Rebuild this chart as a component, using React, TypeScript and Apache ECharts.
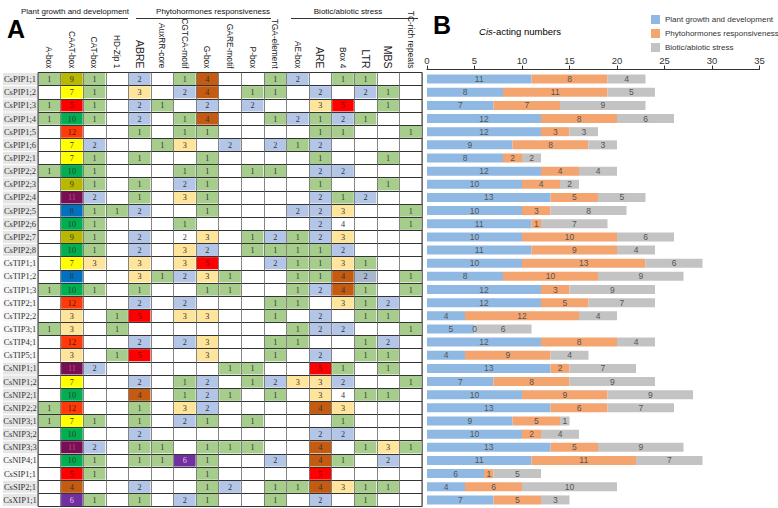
import React, { useEffect, useRef } from "react";
import * as echarts from "echarts";

const genes = [
  "CsPIP1;1", "CsPIP1;2", "CsPIP1;3", "CsPIP1;4", "CsPIP1;5", "CsPIP1;6",
  "CsPIP2;1", "CsPIP2;2", "CsPIP2;3", "CsPIP2;4", "CsPIP2;5", "CsPIP2;6", "CsPIP2;7", "CsPIP2;8",
  "CsTIP1;1", "CsTIP1;2", "CsTIP1;3", "CsTIP2;1", "CsTIP2;2", "CsTIP3;1", "CsTIP4;1", "CsTIP5;1",
  "CsNIP1;1", "CsNIP1;2", "CsNIP2;1", "CsNIP2;2", "CsNIP3;1", "CsNIP3;2", "CsNIP3;3", "CsNIP4;1",
  "CsSIP1;1", "CsSIP2;1", "CsXIP1;1",
];

const elements = [
  "A-box", "CAAT-box", "CAT-box", "HD-Zip 1",
  "ABRE", "AuxRR-core", "CGTCA-motif", "G-box", "GARE-motif", "P-box", "TGA-element",
  "AE-box", "ARE", "Box 4", "LTR", "MBS", "TC-rich repeats",
];
const bigHeaders = ["ABRE", "ARE", "LTR", "MBS"];

// counts per gene (rows) and element (columns); 0 = empty cell
const counts = [
  [1, 9, 1, 0, 2, 0, 1, 4, 0, 0, 1, 2, 0, 1, 1, 0, 0],
  [0, 7, 1, 0, 3, 0, 2, 4, 0, 1, 1, 0, 2, 0, 2, 1, 0],
  [1, 5, 1, 0, 2, 1, 0, 2, 0, 2, 0, 0, 3, 5, 0, 1, 0],
  [1, 10, 1, 0, 2, 0, 1, 4, 0, 0, 1, 2, 1, 2, 1, 0, 0],
  [0, 12, 0, 0, 1, 0, 1, 1, 0, 0, 0, 0, 1, 1, 0, 0, 1],
  [0, 7, 2, 0, 0, 1, 3, 0, 2, 0, 2, 1, 2, 0, 0, 0, 0],
  [0, 7, 1, 0, 1, 0, 0, 1, 0, 0, 0, 0, 1, 0, 0, 1, 0],
  [1, 10, 1, 0, 0, 0, 1, 1, 0, 1, 1, 0, 2, 2, 0, 0, 0],
  [0, 9, 1, 0, 1, 0, 2, 1, 0, 0, 0, 0, 1, 0, 0, 1, 0],
  [0, 11, 2, 0, 1, 0, 3, 1, 0, 0, 0, 0, 2, 1, 2, 0, 0],
  [0, 8, 1, 1, 2, 0, 0, 1, 0, 0, 0, 2, 2, 3, 0, 0, 1],
  [0, 10, 1, 0, 0, 0, 1, 0, 0, 0, 0, 0, 2, 4, 0, 0, 1],
  [0, 9, 1, 0, 2, 0, 2, 3, 0, 1, 2, 1, 2, 3, 0, 0, 0],
  [0, 10, 1, 0, 2, 0, 3, 2, 0, 1, 1, 1, 1, 2, 0, 0, 0],
  [0, 7, 3, 0, 3, 0, 3, 5, 0, 0, 2, 1, 1, 3, 1, 0, 0],
  [0, 8, 0, 0, 3, 1, 2, 3, 1, 0, 0, 1, 1, 4, 2, 0, 1],
  [1, 10, 1, 0, 1, 0, 0, 1, 1, 0, 0, 1, 2, 4, 1, 0, 1],
  [0, 12, 0, 0, 2, 0, 2, 0, 0, 0, 1, 1, 0, 3, 1, 2, 0],
  [0, 3, 0, 1, 5, 0, 3, 3, 0, 0, 1, 0, 2, 0, 1, 1, 0],
  [1, 3, 0, 1, 0, 0, 0, 0, 0, 0, 0, 1, 2, 2, 0, 0, 1],
  [0, 12, 0, 0, 2, 0, 2, 3, 0, 0, 1, 1, 0, 0, 1, 2, 0],
  [0, 3, 0, 1, 5, 0, 0, 3, 0, 0, 1, 0, 2, 0, 1, 1, 0],
  [0, 11, 2, 0, 0, 0, 0, 0, 1, 1, 0, 0, 5, 1, 0, 1, 0],
  [0, 7, 0, 0, 2, 0, 1, 2, 0, 1, 2, 3, 3, 2, 0, 0, 1],
  [0, 10, 0, 0, 4, 0, 1, 2, 1, 0, 1, 0, 3, 4, 1, 1, 0],
  [1, 12, 0, 0, 1, 0, 3, 2, 0, 0, 0, 0, 4, 3, 0, 0, 0],
  [1, 7, 1, 0, 1, 0, 2, 1, 0, 1, 0, 0, 0, 1, 0, 0, 0],
  [0, 10, 0, 0, 2, 0, 0, 0, 0, 0, 0, 0, 2, 2, 0, 0, 0],
  [0, 11, 2, 0, 1, 1, 0, 1, 1, 1, 0, 0, 4, 0, 1, 3, 1],
  [0, 10, 1, 0, 1, 1, 6, 1, 0, 0, 2, 0, 4, 1, 0, 2, 0],
  [0, 5, 1, 0, 0, 0, 0, 1, 0, 0, 0, 0, 5, 0, 0, 0, 0],
  [0, 4, 0, 0, 2, 0, 0, 1, 2, 0, 1, 1, 4, 3, 1, 1, 0],
  [0, 6, 1, 0, 1, 0, 2, 1, 0, 0, 1, 0, 2, 0, 1, 0, 0],
];

// cells drawn without fill colour in the reference: [gene, element]
const plainCells = [["CsPIP2;6", "Box 4"], ["CsPIP2;7", "CGTCA-motif"], ["CsNIP2;1", "Box 4"]];
const greyBlueCells = [["CsTIP1;2", "LTR"]];

// row labels with shaded background
const shadedGenes = [
  "CsPIP1;1", "CsPIP1;2", "CsPIP1;3", "CsPIP1;4", "CsPIP1;5", "CsPIP1;6",
  "CsPIP2;1", "CsPIP2;2", "CsPIP2;3", "CsPIP2;4", "CsPIP2;5", "CsPIP2;6", "CsPIP2;7", "CsPIP2;8",
  "CsNIP1;1", "CsNIP1;2", "CsNIP2;1", "CsNIP2;2", "CsNIP3;1", "CsNIP3;2", "CsNIP3;3",
  "CsSIP2;1", "CsXIP1;1",
];

// element groups shown above the table
const groupNames = ["Plant growth and development", "Phytohormones responsiveness", "Biotic/abiotic stress"];

// panel B totals
const categoryNames = ["Plant growth and development", "Phytohormones responsiveness", "Biotic/abiotic stress"];
const growth = [11, 8, 7, 12, 12, 9, 8, 12, 10, 13, 10, 11, 10, 11, 10, 8, 12, 12, 4, 5, 12, 4, 13, 7, 10, 13, 9, 10, 13, 11, 6, 4, 7];
const phyto = [8, 11, 7, 8, 3, 8, 2, 4, 4, 5, 3, 1, 10, 9, 13, 10, 3, 5, 12, 0, 8, 9, 2, 8, 9, 6, 5, 2, 5, 11, 1, 6, 5];
const stress = [4, 5, 9, 6, 3, 3, 2, 4, 2, 5, 8, 7, 6, 4, 6, 9, 9, 7, 4, 6, 4, 4, 7, 9, 9, 7, 1, 4, 9, 7, 5, 10, 3];
const xTicks = { min: 0, max: 35, interval: 5 };

const cellColors: Record<number, string> = {
  1: "#a6cd8b",
  2: "#b3c6e7",
  3: "#fee59b",
  4: "#c55a11",
  5: "#ff0000",
  6: "#7030a0",
  7: "#ffff00",
  8: "#0070c0",
  9: "#b8b800",
  10: "#00b050",
  11: "#7a0e55",
  12: "#ff3a0a",
};
const cellTextColors: Record<number, string> = {
  5: "#7a0000",
  6: "#e6c8ea",
  11: "#c24a8a",
  12: "#5a1200",
};
const barColors = ["#8fb9e3", "#f4a46f", "#c3c3c3"];

const SANS = "Liberation Sans";
const SERIF = "Liberation Serif";

export default function App() {
  const ref = useRef<HTMLDivElement>(null);

  useEffect(() => {
    if (!ref.current) return;
    const chart = echarts.init(ref.current, null, { renderer: "svg" });

    const isIn = (list: string[][], g: string, e: string) => list.some((p) => p[0] === g && p[1] === e);

    const cells: { value: number[]; fill: string; text: string }[] = [];
    counts.forEach((row, r) => {
      row.forEach((v, c) => {
        if (!v) return;
        const g = genes[r];
        const e = elements[c];
        let fill = cellColors[v];
        if (isIn(plainCells, g, e)) fill = "#ffffff";
        if (isIn(greyBlueCells, g, e)) fill = "#a9b7cc";
        const text = cellTextColors[v] && fill !== "#ffffff" ? cellTextColors[v] : "#333";
        cells.push({ value: [c, r, v], fill, text });
      });
    });

    const tableTop = 72.5;
    const tableH = 434;

    const headerText = (text: string, cx: number) => ({
      type: "text",
      x: cx,
      y: 11,
      style: { text, fontSize: 8, fontFamily: SANS, fill: "#111", align: "center", verticalAlign: "middle" },
    });
    const headerLine = (x1: number, x2: number) => ({
      type: "line",
      shape: { x1, y1: 18.5, x2, y2: 18.5 },
      style: { stroke: "#333", lineWidth: 1 },
    });

    const option: any = {
      animation: false,
      backgroundColor: "#ffffff",
      textStyle: { fontFamily: SANS },
      legend: {
        data: categoryNames,
        orient: "vertical",
        left: 646,
        top: 10,
        itemWidth: 9,
        itemHeight: 9,
        itemGap: 5,
        icon: "rect",
        textStyle: { fontSize: 8, color: "#333", fontFamily: SANS },
      },
      grid: [
        { left: 36, top: tableTop, width: 386, height: tableH, show: true, borderColor: "#333", borderWidth: 1, backgroundColor: "#fff" },
        { left: 427, top: tableTop, width: 332.5, height: tableH },
      ],
      xAxis: [
        {
          gridIndex: 0,
          type: "category",
          data: elements,
          position: "top",
          z: 5,
          axisLine: { show: false },
          axisTick: { show: false },
          axisLabel: {
            rotate: 90,
            margin: 4,
            interval: 0,
            color: "#222",
            formatter: (v: string) => (bigHeaders.includes(v) ? `{b|${v}}` : `{n|${v}}`),
            rich: {
              n: { fontSize: 8.4, fontFamily: SANS, color: "#222" },
              b: { fontSize: 10.5, fontFamily: SANS, color: "#222" },
            },
          },
          splitLine: { show: true, interval: 0, lineStyle: { color: "#666", width: 0.8 } },
        },
        {
          gridIndex: 1,
          type: "value",
          position: "top",
          min: xTicks.min,
          max: xTicks.max,
          interval: xTicks.interval,
          offset: 3,
          axisLine: { show: true, lineStyle: { color: "#333", width: 1 } },
          axisTick: { show: true, length: 4, lineStyle: { color: "#333" } },
          axisLabel: { fontSize: 9.5, color: "#333", margin: 4, fontFamily: SANS },
          splitLine: { show: false },
        },
      ],
      yAxis: [
        {
          gridIndex: 0,
          type: "category",
          data: genes,
          inverse: true,
          z: 5,
          axisLine: { show: false },
          axisTick: { show: false },
          axisLabel: {
            margin: 1,
            interval: 0,
            formatter: (v: string) => (shadedGenes.includes(v) ? `{g|${v}}` : `{w|${v}}`),
            rich: {
              g: { backgroundColor: "#e6e6e6", width: 34, height: 12, lineHeight: 12, align: "center", fontSize: 8.5, fontFamily: SERIF, color: "#333" },
              w: { backgroundColor: "#f7f7f7", width: 34, height: 12, lineHeight: 12, align: "center", fontSize: 8.5, fontFamily: SERIF, color: "#333" },
            },
          },
          splitLine: { show: true, interval: 0, lineStyle: { color: "#333", width: 1 } },
        },
        {
          gridIndex: 1,
          type: "category",
          data: genes,
          inverse: true,
          show: false,
        },
      ],
      series: [
        {
          type: "custom",
          xAxisIndex: 0,
          yAxisIndex: 0,
          z: 2,
          data: cells.map((d) => d.value),
          encode: { x: 0, y: 1 },
          renderItem: (params: any, api: any) => {
            const cell = cells[params.dataIndex];
            const center = api.coord([api.value(0), api.value(1)]);
            const size = api.size([1, 1]);
            const w = size[0];
            const h = size[1];
            return {
              type: "group",
              children: [
                {
                  type: "rect",
                  shape: { x: center[0] - w / 2 + 0.5, y: center[1] - h / 2 + 0.5, width: w - 1, height: h - 1 },
                  style: { fill: cell.fill },
                },
                {
                  type: "text",
                  x: center[0],
                  y: center[1] + 0.5,
                  style: {
                    text: String(api.value(2)),
                    fill: cell.text,
                    fontSize: 8.2,
                    fontFamily: SERIF,
                    align: "center",
                    verticalAlign: "middle",
                  },
                },
              ],
            };
          },
        },
        ...[growth, phyto, stress].map((arr, i) => ({
          name: categoryNames[i],
          type: "bar",
          stack: "total",
          xAxisIndex: 1,
          yAxisIndex: 1,
          barWidth: 9,
          data: arr,
          itemStyle: { color: barColors[i] },
          label: { show: true, position: "inside", fontSize: 8.5, color: "#555", fontFamily: SANS },
        })),
      ],
      graphic: [
        { type: "text", x: 7, y: 16, style: { text: "A", fontSize: 25, fontWeight: "bold", fontFamily: SANS, fill: "#000" } },
        { type: "text", x: 433, y: 12, style: { text: "B", fontSize: 25, fontWeight: "bold", fontFamily: SANS, fill: "#000" } },
        {
          type: "text",
          x: 520,
          y: 31,
          style: {
            text: "{i|Cis}{n|-acting numbers}",
            align: "center",
            verticalAlign: "middle",
            rich: {
              i: { fontStyle: "italic", fontSize: 9.5, fontFamily: SANS, color: "#222" },
              n: { fontSize: 9.5, fontFamily: SANS, color: "#222" },
            },
          },
        },
        headerText(groupNames[0], 75),
        headerText(groupNames[1], 213),
        headerText(groupNames[2], 348),
        headerLine(36, 128),
        headerLine(136, 271),
        headerLine(291, 418),
      ],
    };

    chart.setOption(option);
    return () => chart.dispose();
  }, []);

  return (
    <div
      ref={ref}
      style={{ position: "fixed", left: 0, top: 0, width: 778, height: 508, background: "#fff" }}
    />
  );
}
